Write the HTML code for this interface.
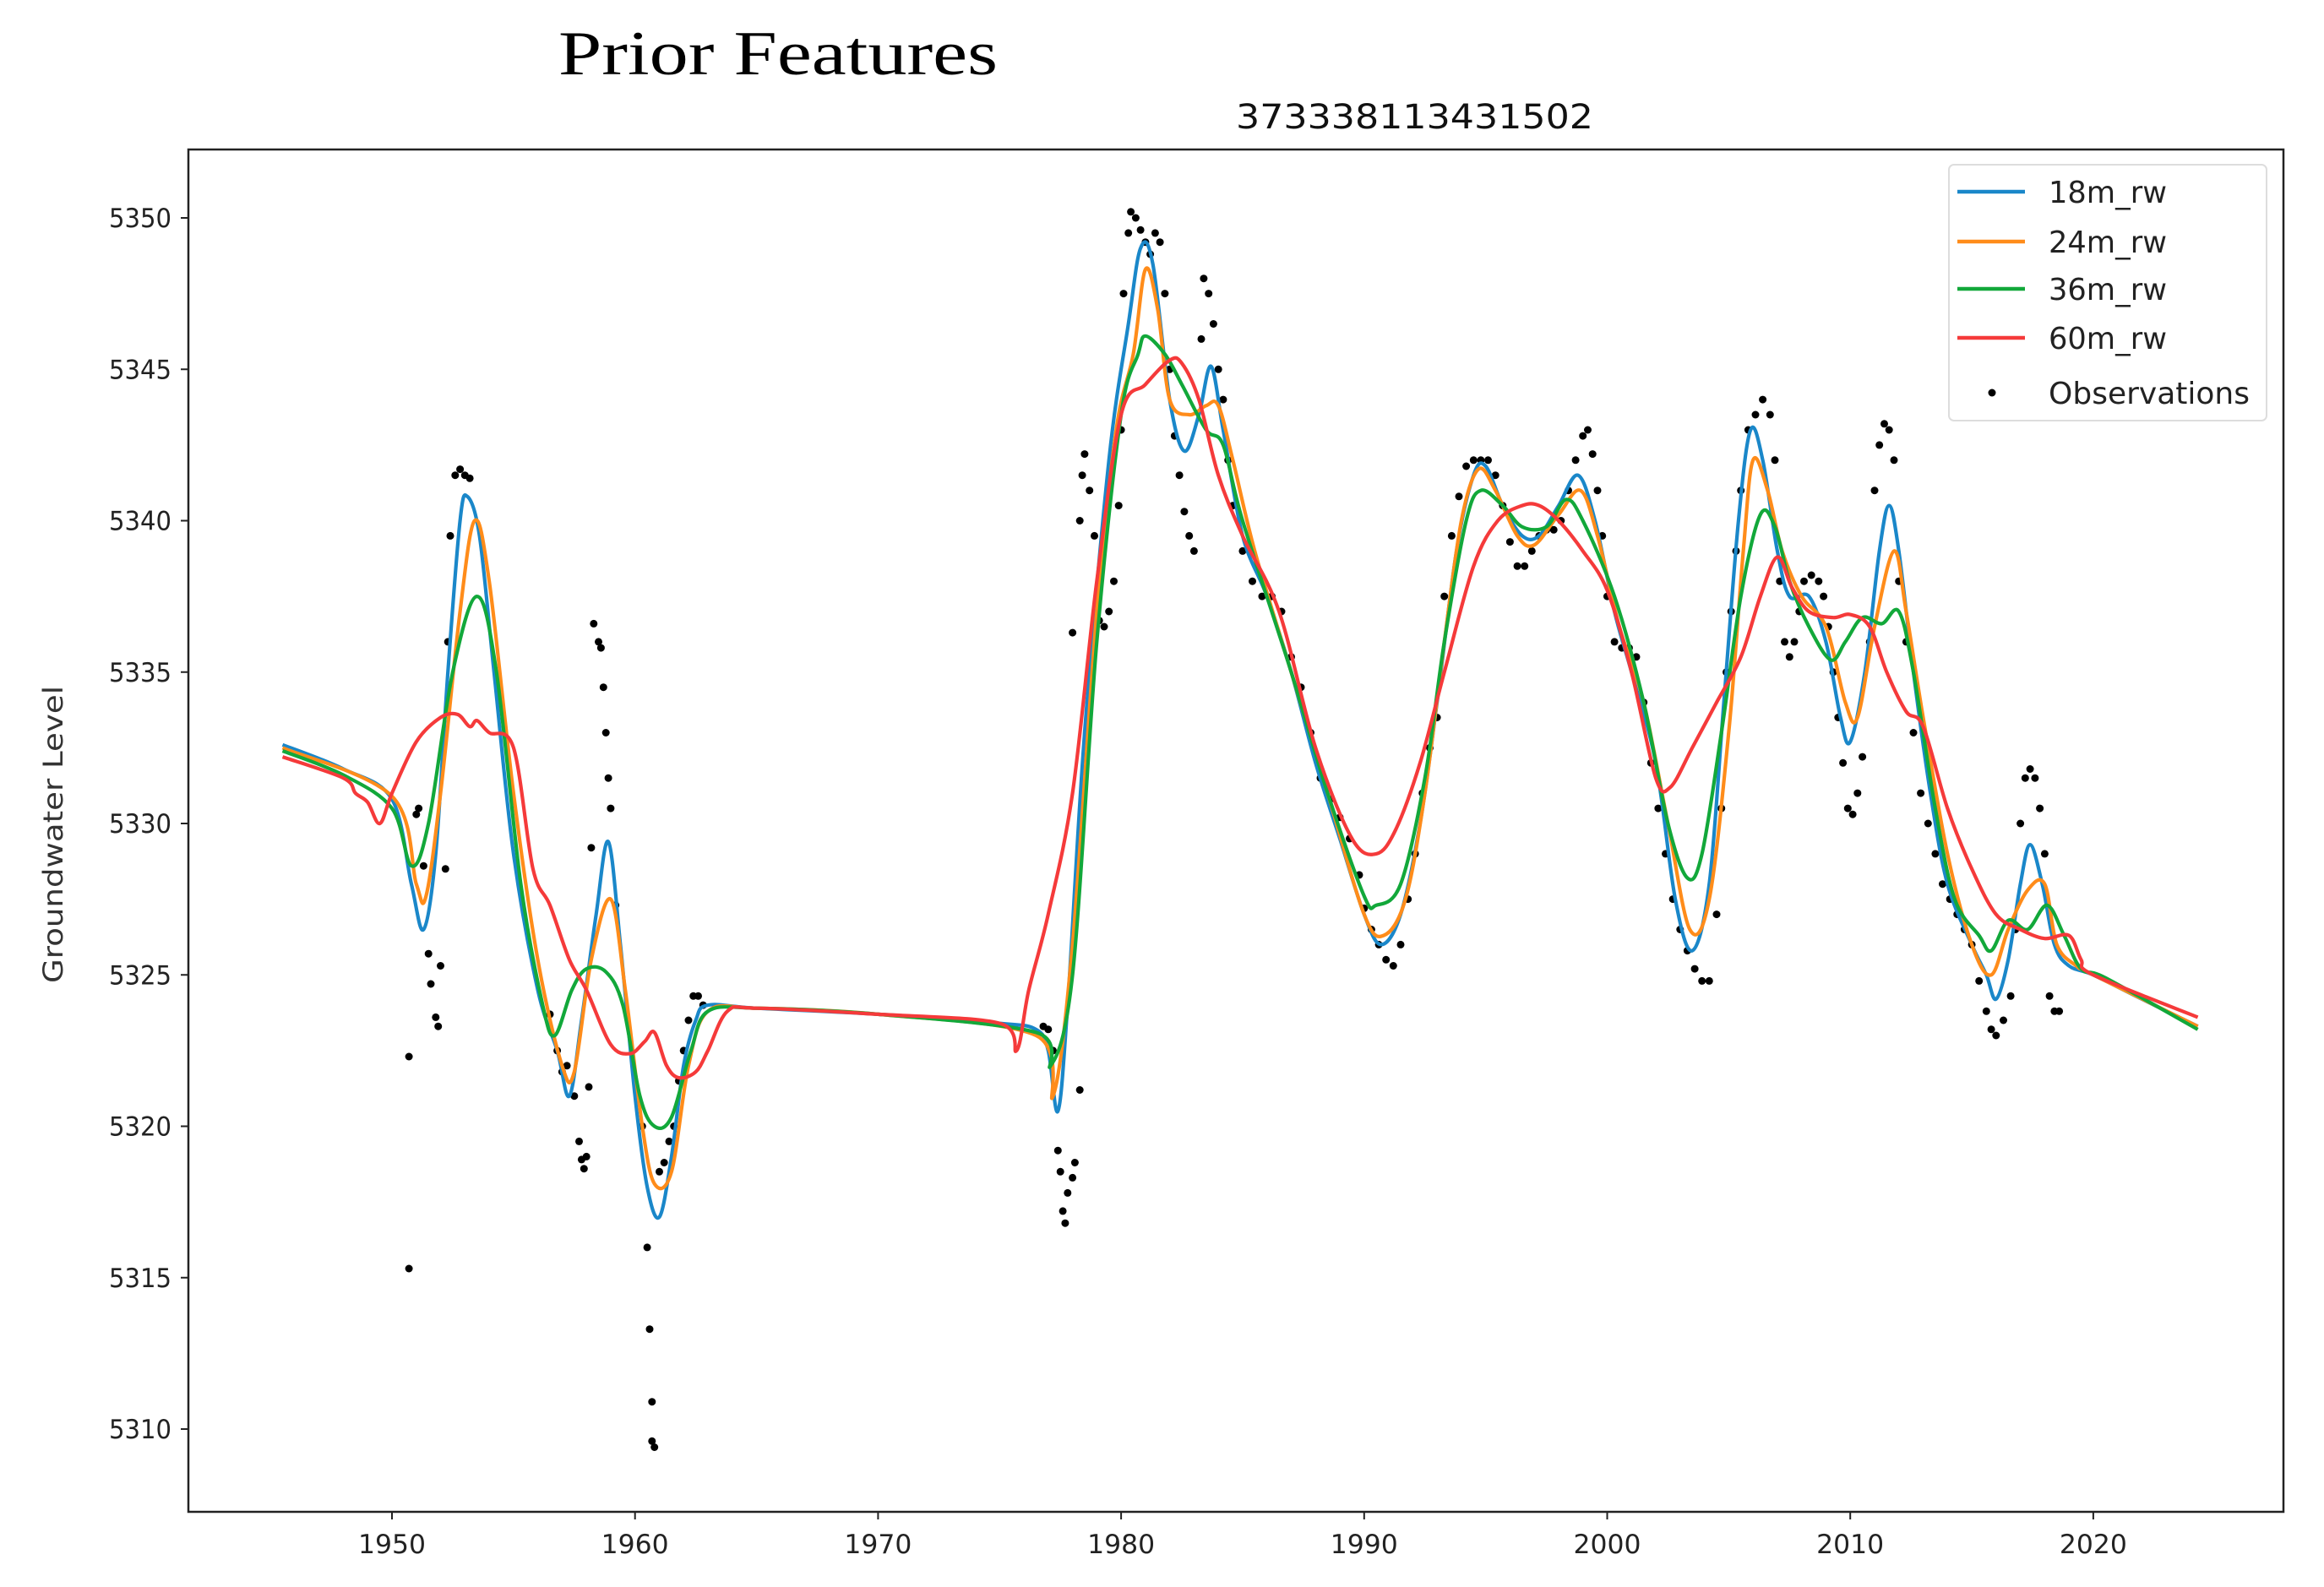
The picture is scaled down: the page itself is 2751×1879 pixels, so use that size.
<!DOCTYPE html>
<html><head><meta charset="utf-8"><style>
html,body{margin:0;padding:0;background:#fff;}
svg{display:block;}
</style></head><body>
<svg id="chart" width="2751" height="1879" viewBox="0 0 2751 1879" xmlns="http://www.w3.org/2000/svg">
<rect width="2751" height="1879" fill="#fff"/>
<text x="661" y="88" font-family="Liberation Serif, serif" font-size="74" fill="#000" textLength="520" lengthAdjust="spacingAndGlyphs">Prior Features</text>
<text x="1463" y="152" font-family="DejaVu Sans, sans-serif" font-size="40" fill="#111" textLength="423" lengthAdjust="spacingAndGlyphs">373338113431502</text>
<text transform="translate(74,988) rotate(-90)" text-anchor="middle" font-family="DejaVu Sans, sans-serif" font-size="32" fill="#333" textLength="352" lengthAdjust="spacingAndGlyphs">Groundwater Level</text>
<g id="plot"></g>
<g id="axes"></g>
<g id="legend"></g>
</svg>
<script>
const yTicks=[5310,5315,5320,5325,5330,5335,5340,5345,5350];
const xTicks=[1950,1960,1970,1980,1990,2000,2010,2020];
const seriesNames=["18m_rw","24m_rw","36m_rw","60m_rw"];
const s18=[[1945.5,332.6],[1948,331.8],[1950,330.8],[1950.8,328],[1951.3,326.5],[1951.8,329],[1952.3,335],[1952.8,340],[1953.1,340.8],[1953.6,339.5],[1954.2,335],[1955,329],[1956,324.5],[1956.8,322.5],[1957.3,321],[1957.8,323.5],[1958.4,327],[1958.9,329.4],[1959.4,326],[1960,321],[1960.5,318],[1961,317],[1961.5,319],[1962,322],[1962.5,323.5],[1963,324],[1965,323.9],[1970,323.7],[1975,323.4],[1976.5,323.2],[1977,322.5],[1977.4,320.5],[1977.8,324],[1978.5,333],[1979.5,342],[1980.3,346.5],[1980.8,349],[1981.3,348.5],[1982,344],[1982.6,342.3],[1983.2,343.5],[1983.7,345.1],[1984.2,343],[1985,339.5],[1986,337.5],[1987,335],[1988,332],[1989,329.5],[1990,327],[1990.7,326],[1991.5,327],[1992.3,330],[1993,334],[1993.8,339],[1994.5,341.5],[1995,341.8],[1995.7,340.5],[1996.5,339.5],[1997.2,339.5],[1998,340.5],[1998.8,341.5],[1999.5,340],[2000.3,337],[2001,335],[2002,332],[2002.8,327.5],[2003.5,325.8],[2004.2,328],[2004.8,334],[2005.4,340],[2005.9,343],[2006.4,342],[2007,339],[2007.5,337.5],[2008.3,337.5],[2009,336],[2009.6,333.5],[2010,332.7],[2010.6,335],[2011.2,339],[2011.6,340.5],[2012,339],[2012.6,335],[2013.3,331],[2014,328],[2015,326],[2015.6,325],[2016,324.2],[2016.5,325.5],[2017,328],[2017.4,329.3],[2017.9,328],[2018.4,326],[2019,325.3],[2020,325],[2022,324.2],[2024.3,323.3]];
const s24=[[1945.5,332.5],[1950,330.9],[1951,328],[1951.4,327.6],[1952,331],[1952.8,337],[1953.4,340],[1954,338],[1955,331],[1956,325.5],[1957,322],[1957.5,321.8],[1958.2,325.5],[1959,327.5],[1959.6,324.5],[1960.3,320],[1960.8,318.1],[1961.5,318.5],[1962.2,322],[1963,323.8],[1965,323.9],[1970,323.7],[1976.5,323],[1977.2,321],[1978,326],[1979,337],[1979.8,343],[1980.5,345.5],[1981,348.3],[1981.5,347],[1982,344],[1982.8,343.5],[1983.5,343.8],[1984,343.8],[1984.6,342],[1985.5,339],[1987,335],[1988.5,331],[1990,327],[1990.8,326.3],[1991.7,327.5],[1992.5,331],[1993.3,336],[1994,340],[1994.7,341.7],[1995.4,341],[1996.3,339.5],[1997,339.2],[1998,340.2],[1998.9,341],[1999.6,339.5],[2000.5,336.5],[2001.5,334],[2002.5,330],[2003.4,326.5],[2004.2,327.5],[2005,333],[2005.6,339],[2006,342],[2006.6,341],[2007.2,339],[2008,337.5],[2009,336.5],[2009.8,334],[2010.3,333.5],[2011,336.5],[2011.8,339],[2012.3,337],[2013,333.5],[2014,329],[2015,326],[2015.8,325],[2016.5,326.5],[2017.3,327.8],[2018,328],[2018.5,326],[2019.3,325.3],[2020,325],[2024.3,323.3]];
const s36=[[1945.5,332.4],[1948,331.6],[1950,330.5],[1950.8,328.6],[1951.5,330],[1952.5,335],[1953.5,337.5],[1954.3,335],[1955.3,328],[1956.2,324],[1956.7,323],[1957.4,324.5],[1958,325.2],[1958.8,325.1],[1959.5,324],[1960.2,321],[1960.8,320],[1961.5,320.3],[1962.3,322.5],[1963,323.8],[1965,323.9],[1970,323.7],[1976.5,323.1],[1977.1,322],[1978,325],[1979,336],[1980,343.5],[1980.7,345.5],[1981,346.1],[1981.8,345.5],[1982.5,344.5],[1983.5,343],[1984.2,342.5],[1985,340],[1987,335],[1988.5,331],[1990,327.6],[1990.5,327.3],[1991.5,328],[1992.5,331.5],[1993.3,336],[1994.2,340],[1994.8,341],[1995.7,340.5],[1996.5,339.8],[1997.5,339.8],[1998.3,340.7],[1999,340],[2000.3,337.5],[2001.5,334],[2002.5,330],[2003.3,328.2],[2003.9,329],[2004.7,333],[2005.5,337.5],[2006.3,340.2],[2006.9,339.8],[2007.5,338],[2008.3,336.5],[2009.2,335.4],[2009.8,336],[2010.5,336.8],[2011.3,336.6],[2012,337],[2012.6,335],[2013.5,330.5],[2014.3,327.5],[2015.3,326.3],[2015.8,325.8],[2016.5,326.8],[2017.3,326.5],[2018.1,327.3],[2018.8,326.3],[2019.5,325.2],[2020.5,324.9],[2024.3,323.2]];
const s60=[[1945.5,332.2],[1948,331.5],[1948.5,331],[1949,330.7],[1949.5,330],[1950,331],[1951,332.7],[1952,333.5],[1952.7,333.6],[1953.2,333.2],[1953.5,333.4],[1954,333],[1955,332.5],[1955.8,328.5],[1956.5,327.3],[1957.3,325.5],[1958,324.5],[1959,322.7],[1959.8,322.4],[1960.4,322.8],[1960.8,323.1],[1961.3,322],[1961.8,321.6],[1962.5,321.8],[1963,322.5],[1963.8,323.8],[1965,323.9],[1970,323.7],[1975,323.4],[1975.7,322.5],[1976.2,324.5],[1977,327],[1978,331],[1979,338],[1980,343.5],[1981,344.5],[1982,345.3],[1982.5,345.2],[1983.2,344],[1984,341.5],[1985,339.5],[1986.5,337],[1988,332.5],[1989.5,329.5],[1990.5,329],[1991.3,329.8],[1992.3,332],[1993.3,335],[1994.5,338.5],[1995.5,340],[1996.5,340.5],[1997.2,340.5],[1998,340],[1999,339],[2000,337.7],[2001,335],[2002,331.5],[2002.6,331.2],[2003.5,332.5],[2004.5,334],[2005.5,335.5],[2006.3,337.5],[2007,338.8],[2007.6,337.8],[2008.3,337],[2009.3,336.8],[2010,336.9],[2010.8,336.5],[2011.5,335],[2012.3,333.7],[2013,333.2],[2014,330.5],[2015,328.5],[2016,327],[2017,326.5],[2018,326.2],[2019,326.3],[2019.5,325.5],[2020,325],[2024.3,323.6]];
const observations=[[1950.7,315.3],[1950.7,322.3],[1951,330.3],[1951.1,330.5],[1951.3,328.6],[1951.5,325.7],[1951.6,324.7],[1951.8,323.6],[1951.9,323.3],[1952,325.3],[1952.2,328.5],[1952.3,336],[1952.4,339.5],[1952.6,341.5],[1952.8,341.7],[1953,341.5],[1953.2,341.4],[1956.5,323.7],[1956.8,322.5],[1957,321.8],[1957.2,322],[1957.5,321],[1957.7,319.5],[1957.8,318.9],[1957.9,318.6],[1958,319],[1958.1,321.3],[1958.2,329.2],[1958.3,336.6],[1958.5,336],[1958.6,335.8],[1958.7,334.5],[1958.8,333],[1958.9,331.5],[1959,330.5],[1959.2,327.3],[1960.3,320],[1960.5,316],[1960.6,313.3],[1960.7,310.9],[1960.7,309.6],[1960.8,309.4],[1961,318.5],[1961.2,318.8],[1961.4,319.5],[1961.6,320],[1961.8,321.5],[1962,322.5],[1962.2,323.5],[1962.4,324.3],[1962.6,324.3],[1962.8,324],[1976.8,323.3],[1977,323.2],[1977.2,322.5],[1977.4,319.2],[1977.5,318.5],[1977.6,317.2],[1977.7,316.8],[1977.8,317.8],[1978,318.3],[1978.1,318.8],[1978.3,321.2],[1978,336.3],[1978.3,340],[1978.4,341.5],[1978.5,342.2],[1978.7,341],[1978.9,339.5],[1979.1,336.7],[1979.3,336.5],[1979.5,337],[1979.7,338],[1979.9,340.5],[1980,343],[1980.1,347.5],[1980.3,349.5],[1980.4,350.2],[1980.6,350],[1980.8,349.6],[1981,349.2],[1981.2,348.8],[1981.4,349.5],[1981.6,349.2],[1981.8,347.5],[1982,345],[1982.2,342.8],[1982.4,341.5],[1982.6,340.3],[1982.8,339.5],[1983,339],[1983.3,346],[1983.4,348],[1983.6,347.5],[1983.8,346.5],[1984,345],[1984.2,344],[1984.4,342],[1984.6,340.5],[1985,339],[1985.4,338],[1985.8,337.5],[1986.2,337.5],[1986.6,337],[1987,335.5],[1987.4,334.5],[1987.8,333],[1988.2,331.5],[1988.6,330.8],[1989,330.2],[1989.4,329.5],[1989.8,328.3],[1990,327.2],[1990.3,326.5],[1990.6,326],[1990.9,325.5],[1991.2,325.3],[1991.5,326],[1991.8,327.5],[1992.1,329],[1992.4,331],[1992.7,332.5],[1993,333.5],[1993.3,337.5],[1993.6,339.5],[1993.9,340.8],[1994.2,341.8],[1994.5,342],[1994.8,342],[1995.1,342],[1995.4,341.5],[1995.7,340.5],[1996,339.3],[1996.3,338.5],[1996.6,338.5],[1996.9,339],[1997.2,339.5],[1997.5,339.7],[1997.8,339.7],[1998.1,340],[1998.4,341],[1998.7,342],[1999,342.8],[1999.2,343],[1999.4,342.2],[1999.6,341],[1999.8,339.5],[2000,337.5],[2000.3,336],[2000.6,335.8],[2000.9,335.8],[2001.2,335.5],[2001.5,334],[2001.8,332],[2002.1,330.5],[2002.4,329],[2002.7,327.5],[2003,326.5],[2003.3,325.8],[2003.6,325.2],[2003.9,324.8],[2004.2,324.8],[2004.5,327],[2004.7,330.5],[2004.9,335],[2005.1,337],[2005.3,339],[2005.5,341],[2005.8,343],[2006.1,343.5],[2006.4,344],[2006.7,343.5],[2006.9,342],[2007.1,338],[2007.3,336],[2007.5,335.5],[2007.7,336],[2007.9,337],[2008.1,338],[2008.4,338.2],[2008.7,338],[2008.9,337.5],[2009.1,336.5],[2009.3,335],[2009.5,333.5],[2009.7,332],[2009.9,330.5],[2010.1,330.3],[2010.3,331],[2010.5,332.2],[2010.8,336],[2011,341],[2011.2,342.5],[2011.4,343.2],[2011.6,343],[2011.8,342],[2012,338],[2012.3,336],[2012.6,333],[2012.9,331],[2013.2,330],[2013.5,329],[2013.8,328],[2014.1,327.5],[2014.4,327],[2014.7,326.5],[2015,326],[2015.3,324.8],[2015.6,323.8],[2015.8,323.2],[2016,323],[2016.3,323.5],[2016.6,324.3],[2016.8,326.5],[2017,330],[2017.2,331.5],[2017.4,331.8],[2017.6,331.5],[2017.8,330.5],[2018,329],[2018.2,324.3],[2018.4,323.8],[2018.6,323.8]];
const BASE=5000;
const L=223,R=2703,T=177,B=1790;
const xScale=v=>464+(v-1950)*28.77;
const yScale=v=>258+(5350-v)*35.85;
const NS="http://www.w3.org/2000/svg";
function mk(tag,attrs,parent){const e=document.createElementNS(NS,tag);for(const k in attrs)e.setAttribute(k,attrs[k]);parent.appendChild(e);return e;}
const plot=document.getElementById('plot'),axes=document.getElementById('axes'),leg=document.getElementById('legend');
function pathFor(data){
  const p=data.map(d=>[xScale(d[0]),yScale(BASE+d[1])]);
  let s="M"+p[0][0].toFixed(1)+","+p[0][1].toFixed(1);
  for(let i=0;i<p.length-1;i++){
    const p0=p[Math.max(0,i-1)],p1=p[i],p2=p[i+1],p3=p[Math.min(p.length-1,i+2)];
    const c1x=p1[0]+(p2[0]-p0[0])/6,c1y=p1[1]+(p2[1]-p0[1])/6;
    const c2x=p2[0]-(p3[0]-p1[0])/6,c2y=p2[1]-(p3[1]-p1[1])/6;
    s+=" C"+c1x.toFixed(1)+","+c1y.toFixed(1)+" "+c2x.toFixed(1)+","+c2y.toFixed(1)+" "+p2[0].toFixed(1)+","+p2[1].toFixed(1);
  }
  return s;
}
const colors=["#1a87c9","#ff8c1a","#12a83a","#f53a3a"];
const allSeries=[s18,s24,s36,s60];
const dg=mk('g',{},plot);


observations.forEach(d=>{
  const c=mk('circle',{cx:xScale(d[0]).toFixed(1),cy:yScale(BASE+d[1]).toFixed(1),r:4.5,fill:'#000'},dg);
  
  
});
allSeries.forEach((s,i)=>{
  const e=mk('path',{d:pathFor(s),fill:'none',stroke:colors[i],'stroke-width':4.2,'stroke-linejoin':'round'},plot);
  
  
});
const frame=mk('rect',{x:L,y:T,width:R-L,height:B-T,fill:'none',stroke:'#222','stroke-width':2.5},axes);


yTicks.forEach(v=>{
  const y=yScale(v);
  mk('line',{x1:L-9,x2:L,y1:y,y2:y,stroke:'#222','stroke-width':2},axes);
  const t=mk('text',{x:L-20,y:y+11,'text-anchor':'end','font-family':'DejaVu Sans, sans-serif','font-size':31,fill:'#222',textLength:74,lengthAdjust:'spacingAndGlyphs'},axes);
  t.textContent=v;
  
  
});
xTicks.forEach(v=>{
  const x=xScale(v);
  mk('line',{x1:x,x2:x,y1:B,y2:B+9,stroke:'#222','stroke-width':2},axes);
  const t=mk('text',{x:x,y:B+49,'text-anchor':'middle','font-family':'DejaVu Sans, sans-serif','font-size':31,fill:'#222',textLength:80,lengthAdjust:'spacingAndGlyphs'},axes);
  t.textContent=v;
  
  
});
const lb=mk('rect',{x:2307,y:195,width:376,height:303,rx:6,fill:'#fff',stroke:'#ddd','stroke-width':2},leg);


const legY=[227,286,342,400,465];
seriesNames.concat(["Observations"]).forEach((n,i)=>{
  const g=mk('g',{},leg);
  
  
  if(i<4) mk('line',{x1:2317,x2:2397,y1:legY[i],y2:legY[i],stroke:colors[i],'stroke-width':4.5},g);
  else mk('circle',{cx:2358,cy:legY[i],r:4.5,fill:'#000'},g);
  const t=mk('text',{x:2425,y:legY[i]+13,'font-family':'DejaVu Sans, sans-serif','font-size':36,fill:'#222',textLength:i<4?140:238,lengthAdjust:'spacingAndGlyphs'},g);
  t.textContent=n;
});
</script>
</body></html>
